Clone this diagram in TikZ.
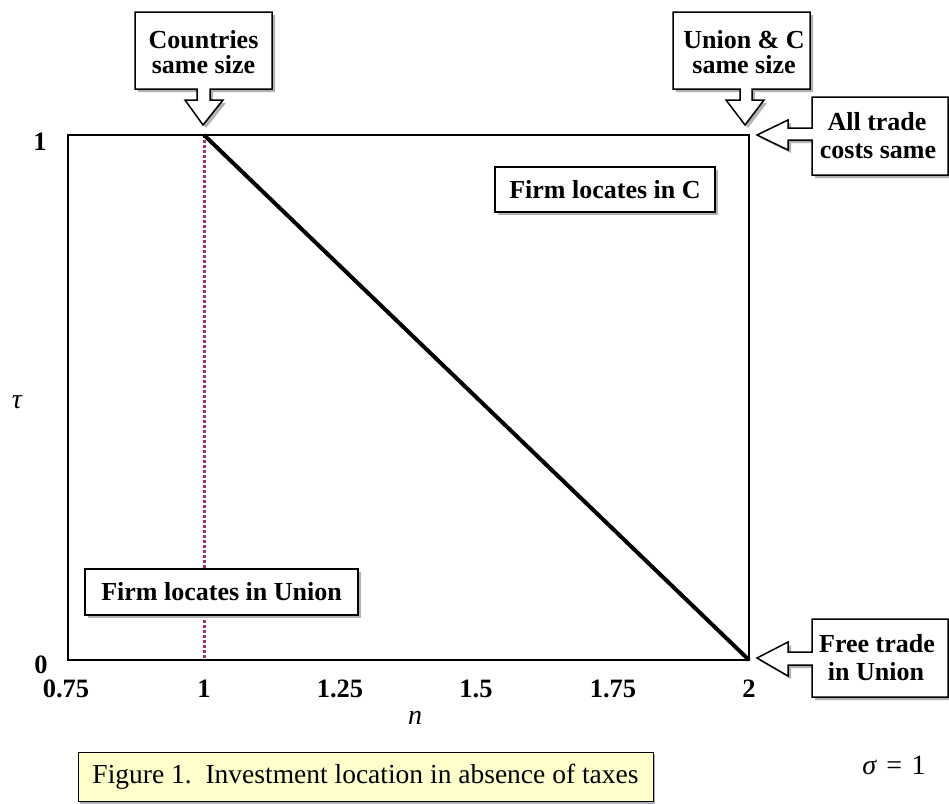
\documentclass[tikz,border=0pt]{standalone}
\usepackage{fontspec}
\setmainfont{Liberation Serif}
\usetikzlibrary{shadows}
\definecolor{capfill}{HTML}{FFFFCC}
\definecolor{dotc}{HTML}{A03070}
\tikzset{
  lbl/.style={font=\fontsize{26}{25}\selectfont\bfseries, inner sep=0pt, anchor=base},
  ticklbl/.style={font=\fontsize{26.5}{26}\selectfont\bfseries, inner sep=0pt, anchor=base},
  mathlbl/.style={font=\fontsize{28}{28}\selectfont\itshape, inner sep=0pt},
  boxline/.style={draw=black, line width=1.5pt, fill=white},
  shad/.style={drop shadow={shadow xshift=3pt, shadow yshift=-3pt, opacity=1, fill=gray!60}},
  regionbox/.style={boxline, shad, inner sep=0pt, font=\fontsize{26}{26}\selectfont\bfseries},
}
\begin{document}
\begin{tikzpicture}[x=1pt,y=-1pt]
\useasboundingbox (0,0) rectangle (949,803);
\fill[white] (0,0) rectangle (949,803);

% plot frame coordinates
\coordinate (TL) at (68,135);
\coordinate (BR) at (749,660);
\coordinate (T1) at (204,135);
\coordinate (B1) at (204,660);

\draw[dotc, line width=3pt, dash pattern=on 2.5pt off 2.5pt] (T1) -- (B1);
\draw[line width=1.5pt] (TL) rectangle (BR);
\draw[line width=4pt] (T1) -- (BR);

% region labels
\node[regionbox, minimum width=273pt, minimum height=46pt] (union) at (221.5,592) {Firm locates in Union};
\node[regionbox, minimum width=220pt, minimum height=45pt] (cbox) at (605,189.5) {Firm locates in C};

% callouts
\draw[boxline, shad] (135,12) -- (272,12) -- (272,89) -- (210,89) -- (210,100) -- (223,100) -- (203,125) -- (185,100) -- (197,100) -- (197,89) -- (135,89) -- cycle;
\node[lbl] (c1a) at (203.5,48) {Countries};
\node[lbl] (c1b) at (203.5,73) {same size};

\draw[boxline, shad] (673,12) -- (810,12) -- (810,89) -- (752,89) -- (752,100) -- (764,100) -- (745,125) -- (726,100) -- (740,100) -- (740,89) -- (673,89) -- cycle;
\node[lbl] (c2a) at (744,48) {Union \& C};
\node[lbl] (c2b) at (744,73) {same size};

\draw[boxline, shad] (812,97) -- (948,97) -- (948,175) -- (812,175) -- (812,140) -- (788,140) -- (788,150) -- (757,135) -- (788,120) -- (788,128) -- (812,128) -- cycle;
\node[lbl] (c3a) at (877,130) {All trade};
\node[lbl] (c3b) at (878,158) {costs same};

\draw[boxline, shad] (812,619) -- (948,619) -- (948,697) -- (812,697) -- (812,665) -- (788,665) -- (788,676) -- (757,658) -- (788,642) -- (788,652) -- (812,652) -- cycle;
\node[lbl] (c4a) at (877,652) {Free trade};
\node[lbl] (c4b) at (876,680) {in Union};

% tick labels
\node[ticklbl] (x075) at (66,697) {0.75};
\node[ticklbl] (x1) at (204,697) {1};
\node[ticklbl] (x125) at (340,697) {1.25};
\node[ticklbl] (x15) at (476,697) {1.5};
\node[ticklbl] (x175) at (613,697) {1.75};
\node[ticklbl] (x2) at (749,697) {2};
\node[ticklbl] (y1) at (40,150) {1};
\node[ticklbl] (y0) at (41,673) {0};

% axis labels
\node[mathlbl] (tau) at (17,402) {τ};
\node[mathlbl] (nlab) at (415,718) {n};
\node[inner sep=0pt, font=\fontsize{28}{28}\selectfont] (sig) at (894,765) {\textit{σ}\,\,=\,\,1};

% caption
\node[draw=black, line width=1pt, fill=capfill, minimum width=575pt, minimum height=49pt, inner sep=0pt,
      drop shadow={shadow xshift=2pt, shadow yshift=-2pt, opacity=1, fill=gray!60},
      font=\fontsize{27.5}{28}\selectfont] (cap) at (365.5,777) {Figure 1.\ \ Investment location in absence of taxes};
\end{tikzpicture}
\end{document}
